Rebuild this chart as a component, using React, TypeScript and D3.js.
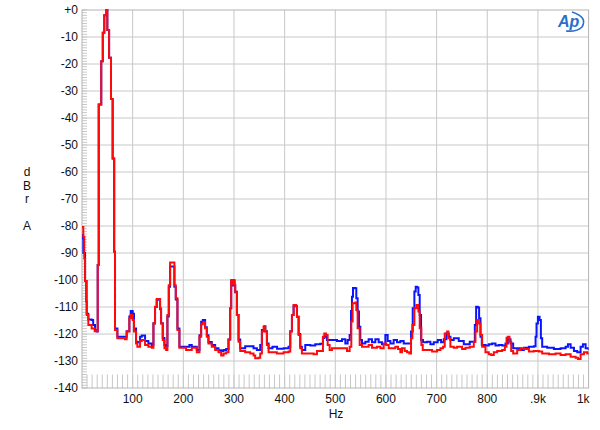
import React from "react";
import * as d3 from "d3";

// ---- Data ----
const yTickValues = [0, -10, -20, -30, -40, -50, -60, -70, -80, -90, -100, -110, -120, -130, -140];
const yTickLabels = ["+0", "-10", "-20", "-30", "-40", "-50", "-60", "-70", "-80", "-90", "-100", "-110", "-120", "-130", "-140"];
const xTickValues = [100, 200, 300, 400, 500, 600, 700, 800, 900, 1000];
const xTickLabels = ["100", "200", "300", "400", "500", "600", "700", "800", ".9k", "1k"];
const yAxisLetters = ["d", "B", "r", "", "A"];
const xAxisTitle = "Hz";

// red channel: [Hz, dBrA]
const redSeries: [number, number][] = [
  [0, -80.4], [2.6, -84], [4.5, -92], [6, -100.4], [8, -108], [9.5, -113], [12.5, -116.7], [19, -118], [25, -119],
  [31, -94.4], [33, -35], [38, -19], [41, -8.4], [44, -1.9], [48, 0], [50, -7.4], [53.5, -17.7], [57.3, -33], [60.5, -55],
  [63.5, -89.5], [65.2, -118.5], [69.8, -121.6], [84.9, -121.9], [88.2, -119.1], [93.5, -114.2], [96.1, -113], [100.1, -114.8],
  [102.7, -119.1], [106.7, -123.5], [109.3, -124.7], [114.6, -122.6], [117.9, -122.2], [124.5, -124.1], [131, -124.7],
  [137.7, -125.1], [141, -116.1], [144.2, -109.9], [147.5, -107], [151.5, -107], [154.1, -110.5], [156.1, -116.1],
  [159.4, -122.2], [162.7, -125.3], [166, -125.9], [168.6, -113], [171.3, -101.9], [173.9, -93.5], [180.5, -93.5],
  [182.4, -101.9], [185.1, -106.8], [188.4, -118.5], [192.3, -125.1], [205.5, -125.9], [216.7, -125.1], [226.6, -126.8],
  [231.9, -121], [235.2, -116.4], [238.4, -115.7], [243, -117.9], [246.4, -121], [249.6, -123.5], [256.2, -124.7],
  [262.8, -125.9], [269.4, -126.8], [274.7, -128], [279.3, -127.2], [284.6, -126.8], [289.2, -122], [292.5, -110.5],
  [294.5, -100], [297.1, -101.6], [299.1, -100], [301.1, -101.8], [302.4, -104.3], [305.7, -113], [309, -122.9],
  [312.3, -126.3], [322.1, -126.8], [332, -127.2], [338.6, -128], [341.9, -129], [348.5, -128.8], [351.8, -127.2],
  [355.1, -119.1], [358.4, -117.3], [361.7, -119.1], [365, -124.1], [368.3, -126.8], [384.7, -127.2], [397.9, -126.8],
  [407.8, -126.5], [411.1, -119.1], [414.4, -113], [417.7, -109.3], [422.3, -109.5], [424.3, -113.6], [427.6, -120.4],
  [430.8, -125.3], [434.1, -127.2], [453.9, -127.2], [457.2, -127.5], [463.8, -126.3], [473.7, -126.3], [475.6, -121],
  [478.3, -119.8], [481.6, -120.4], [484.9, -124.1], [488.8, -125.9], [493.4, -125.3], [519.8, -125.3], [523.1, -126.3],
  [528.3, -124.7], [531.6, -115.4], [534.2, -108.6], [539.5, -108.3], [541.5, -111.1], [544.1, -117.9], [548.1, -124.1],
  [552.7, -124.7], [565.8, -124.1], [572.4, -125.1], [582.3, -124.7], [588.9, -125.3], [595.5, -123.5], [600.7, -124.1],
  [605.4, -125.3], [612, -125.3], [618.5, -124.7], [623.8, -125.6], [628.4, -126.8], [631.7, -125.3], [637, -126.3],
  [641.6, -126.8], [646.2, -127.2], [649.5, -121.6], [652.1, -116.7], [656.1, -110.5], [660, -109.3], [664, -111.7],
  [666.6, -117.9], [669.9, -124.1], [672.6, -125.9], [684.4, -125.9], [691, -126.5], [700.9, -125.9], [707.5, -125.3],
  [712.7, -124.7], [716, -119.8], [720.7, -119.1], [723.3, -121.6], [727.2, -124.7], [733.8, -125.1], [740.4, -124.7],
  [750.3, -125.6], [756.9, -125.1], [765.4, -124.7], [773.4, -122.9], [776.7, -119.1], [780, -114.8], [783.3, -116.1],
  [786.6, -120.4], [789.9, -124.7], [796.4, -126.8], [803, -127.5], [807.6, -127.8], [812.9, -126.8], [819.5, -126.3],
  [829.4, -125.9], [834.7, -124.7], [838, -121.4], [840.6, -121], [843.9, -122.9], [847.2, -126.3], [851.1, -127.2],
  [859, -125.9], [865.6, -125.3], [872.2, -125.6], [882.1, -126.5], [892, -126.3], [901.9, -126.5], [908.4, -127.2],
  [921.6, -127.5], [934.8, -127.2], [944.7, -127.8], [954.6, -127.5], [964.5, -128.4], [974.3, -128.8], [978.9, -129.3],
  [984.2, -127.5], [990.8, -126.8], [997.4, -127.2], [1000, -126.8],
];

// blue channel: [Hz, dBrA]
const blueSeries: [number, number][] = [
  [0, -83.3], [1.5, -84.5], [2.6, -90], [6, -100.4], [9.2, -112.5], [12.5, -114.6], [19, -114.8], [22, -116.7],
  [25.7, -118.6], [29, -119.1], [31, -94.4], [33, -35], [38, -19], [41, -8.4], [44, -1.9], [48, 0], [50, -7.4],
  [53.5, -17.7], [57.3, -33], [60.5, -55], [63.5, -89.5], [65.2, -118], [69.8, -121], [84.9, -121], [88.2, -119],
  [93.5, -113.5], [96.1, -111.5], [100.1, -112.5], [102.7, -118], [106.7, -122.9], [109.3, -123.1], [114.6, -121],
  [117.9, -120.6], [124.5, -122.6], [131, -123.5], [137.7, -124.1], [141, -116], [144.2, -110], [147.5, -107.3],
  [151.5, -107.3], [154.1, -110.8], [156.1, -116], [159.4, -121.5], [162.7, -124.1], [166, -124.5], [168.6, -113.5],
  [171.3, -102.5], [173.9, -95], [180.5, -95], [182.4, -102.5], [185.1, -107.2], [188.4, -118], [192.3, -124.7],
  [205.5, -124.7], [212, -124.1], [216.7, -124.7], [226.6, -125.9], [231.9, -120.5], [235.2, -115.5], [238.4, -114.8],
  [243, -117.5], [246.4, -120.5], [249.6, -123], [256.2, -124.1], [262.8, -125.3], [269.4, -126], [274.7, -126.3],
  [279.3, -125.9], [284.6, -125.6], [289.2, -122], [292.5, -110.5], [294.5, -100.5], [297.1, -102], [299.1, -100.5],
  [301.1, -102], [302.4, -104.5], [305.7, -113], [309, -122], [312.3, -125.3], [322.1, -124.5], [332, -124.5],
  [338.6, -125.3], [345.2, -125.9], [351.8, -124.1], [355.1, -118.5], [359.7, -117.1], [362, -119], [365, -123.5],
  [368.3, -125.3], [376, -124.7], [385, -125.5], [397.9, -125.3], [407.8, -124.7], [411.1, -119], [414.4, -113],
  [417.7, -109.5], [422.3, -109.7], [424.3, -113.6], [427.6, -120], [430.8, -124.7], [434.1, -125.9], [440.7, -124.1],
  [450.6, -124.3], [460.5, -123.8], [470.4, -123.6], [475.6, -121.5], [478.3, -121], [483.5, -122.2], [490.1, -122.2],
  [503.3, -122.6], [513.2, -121.9], [519.8, -123.5], [524.4, -122.2], [528.3, -120.4], [531, -111.5], [532.9, -106.2],
  [534.9, -103], [539.5, -103.1], [541.5, -106.8], [544.1, -111.7], [546.7, -117.3], [549.4, -122.2], [552.7, -123.5],
  [559.2, -122.9], [565.8, -121.9], [572.4, -123.1], [579, -121.9], [585.6, -123.1], [592.2, -123.8], [598.8, -120.4],
  [603.4, -122.6], [608.7, -123.5], [615.2, -122.2], [621.8, -123.1], [628.4, -122.6], [635, -123.5], [644.9, -123.5],
  [649.5, -119.1], [652.8, -110.5], [656.1, -104.3], [658.7, -102.5], [661.4, -102.8], [664, -105.6], [666.6, -113],
  [669.3, -122.2], [673.2, -123.1], [681.1, -122.9], [687.7, -123.8], [694.3, -123.1], [702.2, -122.2], [708.8, -123.1],
  [714.1, -121.9], [719.3, -119.8], [724, -121], [727.2, -122.2], [733.8, -121.6], [743.7, -122.6], [753.6, -123.8],
  [760.2, -123.8], [765.4, -122.9], [772, -122.9], [775.4, -116.7], [778, -109.9], [781.3, -110.2], [783.9, -114.2],
  [786.6, -121], [789.2, -124.1], [796.4, -124.3], [803, -123.8], [809.6, -123.5], [816.2, -124.3], [822.8, -124.1],
  [829.4, -124.3], [836, -123.5], [840.6, -121.9], [845.9, -123.5], [851.1, -125.3], [859, -125.3], [865.6, -125.9],
  [872.2, -125.1], [882.1, -124.7], [892, -124.5], [895.3, -121], [897.2, -116.1], [899.9, -113.6], [903.2, -114.8],
  [905.8, -121.6], [908.4, -124.7], [918.3, -125.1], [931.5, -125.6], [944.7, -125.3], [954.6, -124.7], [959.2, -123.8],
  [964.5, -125.1], [971.1, -126.3], [977.6, -126.8], [984.2, -124.7], [988.8, -123.8], [994.1, -125.3], [1000, -125.9],
];

const W = 600;
const H = 430;
const left = 82;
const right = 588.6;
const top = 10;
const bottom = 388;
const FONT = "'Liberation Sans', Arial, sans-serif";

export default function App() {
  const x = d3.scaleLinear().domain([0, 1000]).range([left, right]);
  const y = d3.scaleLinear().domain([-140, 0]).range([bottom, top]);

  const line = d3
    .line<[number, number]>()
    .x((d) => x(d[0]))
    .y((d) => y(d[1]))
    .curve(d3.curveStepAfter);

  const minorY = d3.range(-140, 1, 1);
  const minorX = d3.range(10, 1000, 10);
  const gridX = xTickValues.filter((v) => v < 1000);
  const gridY = yTickValues.filter((v) => v > -140 && v < 0);

  return (
    <svg
      width={W}
      height={H}
      style={{ position: "absolute", left: 0, top: 0, background: "#fff" }}
      fontFamily={FONT}
    >
      <rect x={0} y={0} width={W} height={H} fill="#fff" />
      <defs>
        <clipPath id="plotClip">
          <rect x={left} y={top - 2} width={right - left} height={bottom - top + 2} />
        </clipPath>
      </defs>

      {/* grid */}
      {gridX.map((v) => (
        <line key={"gx" + v} x1={x(v)} x2={x(v)} y1={top} y2={bottom} stroke="#c8c8c8" strokeWidth={1} />
      ))}
      {gridY.map((v) => (
        <line key={"gy" + v} x1={left} x2={right} y1={y(v)} y2={y(v)} stroke="#c8c8c8" strokeWidth={1} />
      ))}

      {/* minor ticks */}
      {minorY.map((v) => (
        <line key={"my" + v} x1={left} x2={left + 5} y1={y(v)} y2={y(v)} stroke="#c8c8c8" strokeWidth={1} />
      ))}
      {minorX.map((v) => (
        <line key={"mx" + v} x1={x(v)} x2={x(v)} y1={y(-135)} y2={bottom} stroke="#c8c8c8" strokeWidth={1} />
      ))}

      {/* frame */}
      <rect x={left} y={top} width={right - left} height={bottom - top} fill="none" stroke="#b4b4b4" strokeWidth={1} />

      {/* traces */}
      <g clipPath="url(#plotClip)">
        <path d={line(blueSeries) || ""} fill="none" stroke="#0a14ff" strokeWidth={2} strokeLinejoin="miter" />
        <path d={line(redSeries) || ""} fill="none" stroke="#ff0a0a" strokeWidth={2} strokeLinejoin="miter" />
      </g>

      {/* y tick labels */}
      {yTickValues.map((v, i) => (
        <text key={"yl" + v} x={78} y={y(v)} dy="0.35em" textAnchor="end" fontSize={12} fill="#111">
          {yTickLabels[i]}
        </text>
      ))}

      {/* x tick labels */}
      {xTickValues.map((v, i) => (
        <text
          key={"xl" + v}
          x={v === 1000 ? right + 1 : x(v)}
          y={403}
          textAnchor={v === 1000 ? "end" : "middle"}
          fontSize={12}
          fill="#111"
        >
          {xTickLabels[i]}
        </text>
      ))}

      {/* axis titles */}
      {yAxisLetters.map((c, i) => (
        <text key={"ya" + i} x={27} y={176 + i * 13.5} textAnchor="middle" fontSize={12} fill="#111">
          {c}
        </text>
      ))}
      <text x={336} y={418} textAnchor="middle" fontSize={12} fill="#111">
        {xAxisTitle}
      </text>

      {/* Ap logo */}
      <g>
        <text x={558} y={27} fontSize={16} fontStyle="italic" fontWeight="bold" fill="#2a6fc9" fontFamily={FONT}>
          Ap
        </text>
        <path d="M 572 12 Q 588 17 582 27 Q 577 32 566 31" fill="none" stroke="#2a6fc9" strokeWidth={1.6} />
      </g>
    </svg>
  );
}
